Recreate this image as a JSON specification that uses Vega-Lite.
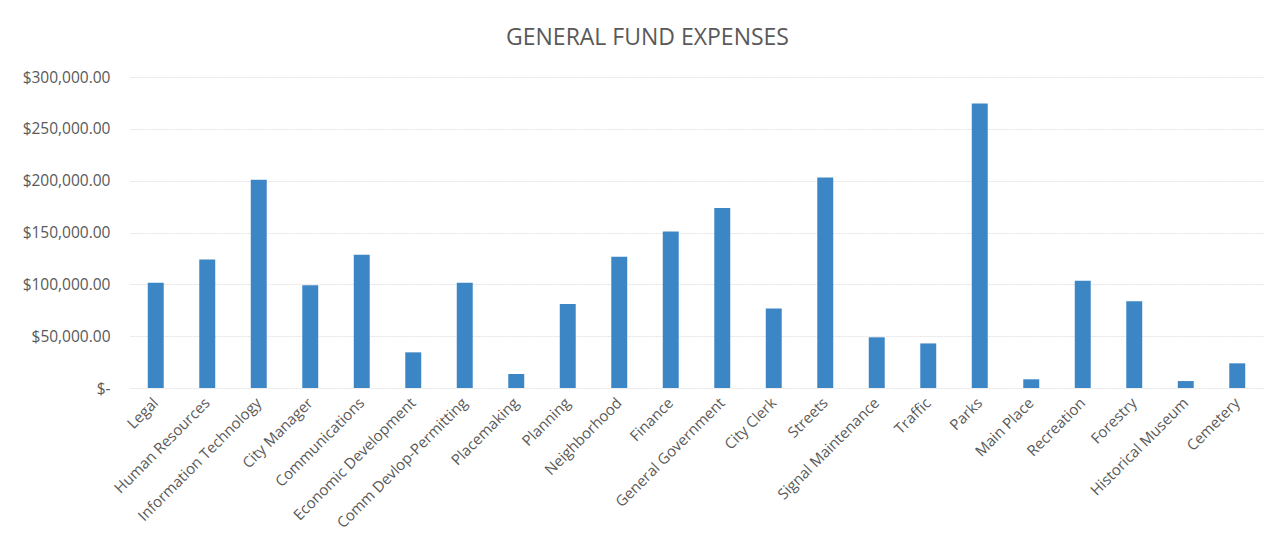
{
  "$schema": "https://vega.github.io/schema/vega-lite/v6.json",
  "autosize": "none",
  "width": 1133,
  "height": 311,
  "padding": {"left": 130, "top": 77, "right": 12, "bottom": 162},
  "background": "white",
  "title": {
    "text": "GENERAL FUND EXPENSES",
    "anchor": "middle",
    "frame": "group",
    "dx": -49,
    "offset": 20,
    "font": "Open Sans",
    "fontSize": 23,
    "fontWeight": "normal",
    "color": "#595959"
  },
  "data": {
    "values": [
      {"dept": "Legal", "amount": 101500},
      {"dept": "Human Resources", "amount": 124000},
      {"dept": "Information Technology", "amount": 201000},
      {"dept": "City Manager", "amount": 99000},
      {"dept": "Communications", "amount": 128500},
      {"dept": "Economic Development", "amount": 34400},
      {"dept": "Comm Devlop-Permitting", "amount": 101500},
      {"dept": "Placemaking", "amount": 13500},
      {"dept": "Planning", "amount": 81000},
      {"dept": "Neighborhood", "amount": 126700},
      {"dept": "Finance", "amount": 151000},
      {"dept": "General Government", "amount": 173600},
      {"dept": "City Clerk", "amount": 76800},
      {"dept": "Streets", "amount": 203000},
      {"dept": "Signal Maintenance", "amount": 48900},
      {"dept": "Traffic", "amount": 43000},
      {"dept": "Parks", "amount": 274500},
      {"dept": "Main Place", "amount": 8400},
      {"dept": "Recreation", "amount": 103500},
      {"dept": "Forestry", "amount": 83600},
      {"dept": "Historical Museum", "amount": 6700},
      {"dept": "Cemetery", "amount": 23800}
    ]
  },
  "mark": {"type": "bar", "color": "#3d86c6"},
  "encoding": {
    "x": {
      "field": "dept",
      "type": "nominal",
      "sort": null,
      "title": null,
      "scale": {"paddingInner": 0.69, "paddingOuter": 0.345},
      "axis": {
        "labelAngle": -45,
        "labelAlign": "right",
        "labelBaseline": "middle",
        "labelFont": "Open Sans",
        "labelFontSize": 15,
        "labelColor": "#595959",
        "labelPadding": 12,
        "ticks": false,
        "domain": false,
        "grid": false
      }
    },
    "y": {
      "field": "amount",
      "type": "quantitative",
      "title": null,
      "scale": {"domain": [0, 300000]},
      "axis": {
        "values": [0, 50000, 100000, 150000, 200000, 250000, 300000],
        "labelExpr": "datum.value == 0 ? '$-' : '$' + format(datum.value, ',.2f')",
        "labelFont": "Open Sans",
        "labelFontSize": 15.5,
        "labelColor": "#595959",
        "labelPadding": 20,
        "ticks": false,
        "domain": false,
        "grid": true,
        "gridColor": "#e3e3e3",
        "gridDash": [2, 1]
      }
    }
  },
  "config": {"view": {"stroke": null}}
}
